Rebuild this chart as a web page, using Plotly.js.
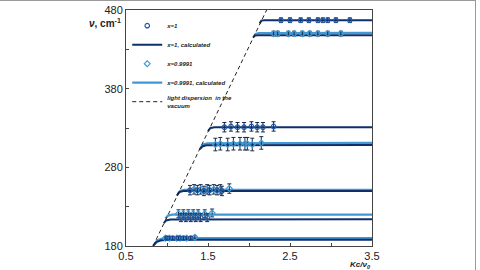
<!DOCTYPE html>
<html>
<head>
<meta charset="utf-8">
<script src="https://cdn.plot.ly/plotly-3.0.1.min.js"></script>
<style>
html,body{margin:0;padding:0;background:#fff;}
#wrap{position:relative;width:480px;height:270px;overflow:hidden;}
#chart{width:480px;height:270px;}
#frame{position:absolute;left:-2px;top:0;width:477px;height:280px;border-top:1px solid #9a9a9a;border-right:1px solid #9a9a9a;pointer-events:none;}
</style>
</head>
<body>
<div id="wrap"><div id="chart"></div><div id="frame"></div></div>
<script>
// ---- Data ----
// Measured points, x = 1
const darkX = [2.39,2.50,2.63,2.73,2.84,2.90,2.96,3.06,3.23,
               1.70,1.78,1.86,1.94,2.03,2.10,2.17,2.30,
               1.28,1.37,1.45,1.52,1.61,1.67,
               1.17,1.23,1.29,1.35,1.41,1.49,
               1.00,1.07,1.14,1.20,1.29];
const darkY = [467,467,467,467,467,467,467,467,467,
               331,332,331,331,332,331,331,332,
               251,251,250,251,251,250,
               216,216,216,216,216,216,
               190,190,190,190,190];
const darkErr = [3,3,3,3,3,3,3,3,3,
                 6,6,6,6,6,6,6,6,
                 6,6,6,6,6,6,
                 5,5,5,5,5,5,
                 2,2,2,2,2];
// Measured points, x = 0.9991
const lightX = [2.30,2.35,2.48,2.55,2.65,2.74,2.84,2.96,3.12,
                1.59,1.65,1.74,1.81,1.89,1.95,1.98,2.04,2.15,
                1.33,1.41,1.49,1.57,1.65,1.76,
                1.14,1.20,1.26,1.32,1.38,1.46,1.55,
                0.98,1.03,1.12,1.16,1.24,1.34];
const lightY = [450,450,450,450,450,450,450,450,450,
                309,310,309,310,310,310,310,309,311,
                252,252,252,252,252,253,
                221,221,221,221,221,221,222,
                190,190,190,190,190,191];
const lightErr = [3,3,3,3,3,3,3,3,3,
                  8,8,8,8,8,8,8,8,8,
                  6,6,6,6,6,6,
                  5,5,5,5,5,5,5,
                  2,2,2,2,2,2];
// Calculated branches, x = 1
const darkCurveX = [[0.83,0.87,0.92,1.00,3.5],
                    [0.96,0.99,1.04,3.5],
                    [1.12,1.15,1.20,3.5],
                    [1.40,1.43,1.48,3.5],
                    [1.50,1.53,1.58,3.5],
                    [2.05,2.07,2.11,3.5],
                    [2.13,2.15,2.19,3.5]];
const darkCurveY = [[180,185,187,188,188],
                    [209,212.5,213.8,214],
                    [244,248.5,249.8,250],
                    [303,306.5,308,308.5],
                    [326,330,331,331],
                    [445,447.5,448,448],
                    [463,466.5,467,467]];
// Calculated branches, x = 0.9991
const lightCurveX = [[0.85,0.88,0.93,1.01,3.5],
                     [0.98,1.01,1.06,3.5],
                     [1.13,1.16,1.21,3.5],
                     [1.41,1.44,1.49,3.5],
                     [2.06,2.08,2.12,3.5]];
const lightCurveY = [[182,187,189,190,190],
                     [215,218.5,219.8,220],
                     [246,250,251.3,251.5],
                     [305,309,310.5,311],
                     [446,449.5,450.5,451]];
// Light dispersion in the vacuum
const dispX = [0.83, 2.215];
const dispY = [180, 480];
// Axis ticks
const xTicks = [0.5, 1.5, 2.5, 3.5];
const yTicks = [180, 280, 380, 480];

// ---- Build traces ----
function joinCurves(cx, cy){
  const x=[], y=[];
  cx.forEach((arr,i)=>{ x.push(...arr, null); y.push(...cy[i], null); });
  return {x, y};
}
const dc = joinCurves(darkCurveX, darkCurveY);
const lc = joinCurves(lightCurveX, lightCurveY);

const DARK = '#0e2f6b';
const LIGHT = '#3d9ad6';
const ERR = '#1b2a4a';

const traces = [
  {x: lc.x, y: lc.y, mode:'lines', name:'x=0.9991, calculated', legendrank:4,
   line:{color:LIGHT, width:2.2}, connectgaps:false, hoverinfo:'skip'},
  {x: dc.x, y: dc.y, mode:'lines', name:'x=1, calculated', legendrank:2,
   line:{color:DARK, width:2}, connectgaps:false, hoverinfo:'skip'},
  {x: dispX, y: dispY, mode:'lines', name:'light dispersion  in the<br>vacuum', legendrank:5,
   line:{color:'#222', width:1, dash:'4px,3px'}},
  {x: lightX, y: lightY, mode:'markers', name:'x=0.9991', legendrank:3,
   marker:{symbol:'diamond-open', size:4.5, color:LIGHT, line:{width:1.2, color:LIGHT}},
   error_y:{type:'data', array:lightErr, visible:true, color:ERR, thickness:1, width:2}},
  {x: darkX, y: darkY, mode:'markers', name:'x=1', legendrank:1,
   marker:{symbol:'circle-open', size:4.5, color:'#1f5aa8', line:{width:1.2, color:'#1f5aa8'}},
   error_y:{type:'data', array:darkErr, visible:true, color:ERR, thickness:1, width:2}}
];

const layout = {
  width:480, height:270,
  margin:{l:126, r:108, t:10, b:24, pad:0},
  paper_bgcolor:'#fff', plot_bgcolor:'#fff',
  font:{family:'Liberation Sans, Arial, sans-serif', color:'#222', size:11},
  showlegend:true,
  legend:{x:0.005, y:0.995, xanchor:'left', yanchor:'top', bgcolor:'rgba(0,0,0,0)',
          font:{size:6, weight:'bold', style:'italic', color:'#222'},
          itemwidth:30, tracegroupgap:0},
  xaxis:{range:[0.5,3.5], tickvals:xTicks, ticktext:xTicks.map(v=>v.toFixed(1)),
         ticks:'inside', ticklen:3, tickcolor:'#444', showgrid:false, zeroline:false,
         showline:true, linecolor:'#444', linewidth:1, mirror:true,
         minor:{dtick:0.5, tick0:0.5, ticks:'inside', ticklen:3, tickcolor:'#444', showgrid:false},
         tickfont:{size:11}},
  yaxis:{range:[180,480], tickvals:yTicks, ticktext:yTicks.map(String),
         ticks:'inside', ticklen:3, tickcolor:'#444', showgrid:false, zeroline:false,
         showline:true, linecolor:'#444', linewidth:1, mirror:true,
         minor:{dtick:50, tick0:180, ticks:'inside', ticklen:3, tickcolor:'#444', showgrid:false},
         tickfont:{size:11}},
  annotations:[
    {xref:'paper', yref:'paper', x:-0.012, y:0.945, xanchor:'right', yanchor:'middle',
     text:'<b><i>ν</i>, cm<sup>-1</sup></b>', showarrow:false, font:{size:10, color:'#222'}},
    {xref:'paper', yref:'paper', x:0.955, y:-0.05, xanchor:'center', yanchor:'top',
     text:'<b><i>Kc/ν<sub>0</sub></i></b>', showarrow:false, font:{size:8, color:'#222'}}
  ]
};

Plotly.newPlot('chart', traces, layout, {displayModeBar:false, staticPlot:true});
</script>
</body>
</html>
